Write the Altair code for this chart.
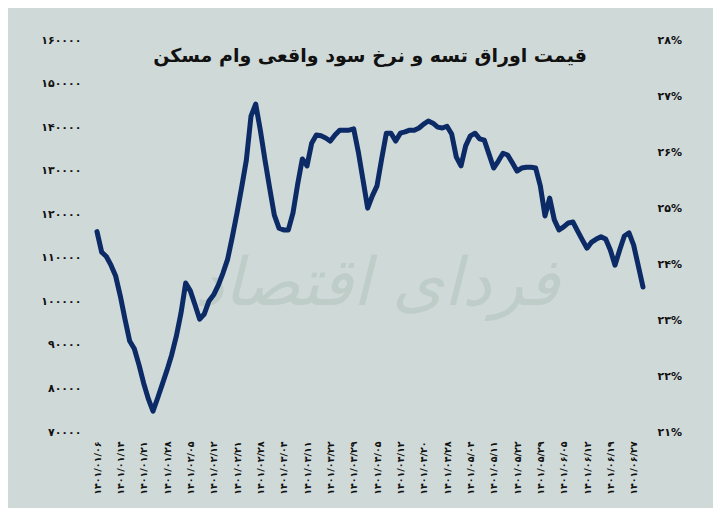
import altair as alt
import pandas as pd

title_text = "قیمت اوراق تسه و نرخ سود واقعی وام مسکن"
watermark_text = "فردای اقتصاد"

prices = [
    116000, 111300, 110300, 108300, 105800, 101200, 95900, 90900, 89100, 85400,
    81200, 77600, 74800, 77800, 81000, 84200, 87700, 92000, 97300, 104200,
    102400, 99200, 95900, 97100, 100100, 101500, 103700, 106500, 109700, 114800,
    120300, 126200, 132400, 142500, 145300, 139300, 132400, 126000, 119800, 116800,
    116400, 116400, 120300, 126900, 132700, 131100, 136300, 138200, 138000, 137500,
    136800, 138200, 139300, 139300, 139300, 139600, 134300, 127900, 121400, 124200,
    126500, 132700, 138600, 138600, 136800, 138600, 138900, 139300, 139300, 139800,
    140700, 141400, 140900, 140000, 139800, 140200, 138400, 133100, 131100, 135700,
    138000, 138600, 137300, 137000, 133800, 130600, 132200, 134000, 133600, 131800,
    129900, 130600, 130800, 130800, 130600, 126500, 119600, 123700, 118700, 116400,
    117100, 118000, 118200, 116100, 114100, 112200, 113600, 114300, 114800, 114300,
    111800, 108300, 111800, 115000, 115700, 112900, 108100, 103300,
]

date_labels = [
    "۱۴۰۱/۰۱/۰۶", "۱۴۰۱/۰۱/۱۴", "۱۴۰۱/۰۱/۲۱", "۱۴۰۱/۰۱/۲۸", "۱۴۰۱/۰۲/۰۵",
    "۱۴۰۱/۰۲/۱۲", "۱۴۰۱/۰۲/۲۱", "۱۴۰۱/۰۲/۲۸", "۱۴۰۱/۰۳/۰۴", "۱۴۰۱/۰۳/۱۱",
    "۱۴۰۱/۰۳/۲۲", "۱۴۰۱/۰۳/۲۹", "۱۴۰۱/۰۴/۰۵", "۱۴۰۱/۰۴/۱۲", "۱۴۰۱/۰۴/۲۰",
    "۱۴۰۱/۰۴/۲۸", "۱۴۰۱/۰۵/۰۴", "۱۴۰۱/۰۵/۱۱", "۱۴۰۱/۰۵/۲۲", "۱۴۰۱/۰۵/۲۹",
    "۱۴۰۱/۰۶/۰۵", "۱۴۰۱/۰۶/۱۲", "۱۴۰۱/۰۶/۱۹", "۱۴۰۱/۰۶/۲۷",
]
label_step = 5

left_ticks = [70000, 80000, 90000, 100000, 110000, 120000, 130000, 140000, 150000, 160000]
right_ticks = [21, 22, 23, 24, 25, 26, 27, 28]

df = pd.DataFrame({"i": list(range(len(prices))), "price": prices})
df_rate = pd.DataFrame({"rate": right_ticks})

FONT = "DejaVu Sans"
BG = "#cfd9d8"
LINE = "#0b2a66"

digits = "۰۱۲۳۴۵۶۷۸۹"
def fa_expr(e):
    for d in range(10):
        e = f"replace({e}, regexp('{d}','g'), '{digits[d]}')"
    return e

x_label_expr = "[" + ",".join(f"'{s}'" for s in date_labels) + f"][round(datum.value/{label_step})]"

x = alt.X(
    "i:Q",
    scale=alt.Scale(domain=[0, len(prices) - 1], nice=False, zero=False),
    axis=alt.Axis(
        values=[k * label_step for k in range(len(date_labels))],
        labelExpr=x_label_expr,
        labelAngle=270,
        labelFont=FONT,
        labelFontSize=9.5,
        labelFontWeight="bold",
        labelColor="#111111",
        labelPadding=9,
        domain=False,
        ticks=False,
        grid=False,
        title=None,
    ),
)

line = alt.Chart(df).mark_line(color=LINE, strokeWidth=5, strokeJoin="round", strokeCap="round").encode(
    x=x,
    y=alt.Y(
        "price:Q",
        scale=alt.Scale(domain=[70000, 160000], nice=False, zero=False),
        axis=alt.Axis(
            orient="left",
            values=left_ticks,
            format="d",
            labelExpr=fa_expr("datum.label"),
            labelFont=FONT,
            labelFontSize=11,
            labelFontWeight="bold",
            labelColor="#111111",
            labelPadding=16,
            domain=False,
            ticks=False,
            grid=False,
            title=None,
        ),
    ),
)

wm = alt.Chart(df.head(1)).mark_text(
    text=watermark_text,
    font=FONT,
    fontSize=66,
    fontStyle="italic",
    color="#bccbc6",
    opacity=0.85,
    align="center",
    baseline="middle",
).encode(x=alt.value(280), y=alt.value(245))

rate_axis = alt.Chart(df_rate).mark_point(opacity=0).encode(
    y=alt.Y(
        "rate:Q",
        scale=alt.Scale(domain=[21, 28], nice=False, zero=False),
        axis=alt.Axis(
            orient="right",
            values=right_ticks,
            labelExpr=fa_expr("datum.label") + " + '%'",
            labelFont=FONT,
            labelFontSize=11,
            labelFontWeight="bold",
            labelColor="#111111",
            labelPadding=14,
            domain=False,
            ticks=False,
            grid=False,
            title=None,
        ),
    ),
)

chart = (
    alt.layer(wm, line, rate_axis)
    .resolve_scale(y="independent")
    .properties(
        width=546,
        height=392,
        background=BG,
        padding={"left": 89, "top": 32, "right": 70, "bottom": 76},
        autosize=alt.AutoSizeParams(type="none"),
        title=alt.Title(
            title_text,
            font=FONT,
            fontSize=19,
            fontWeight="bold",
            color="#111111",
            anchor="middle",
            offset=-32,
        ),
    )
    .configure_view(strokeWidth=0)
)

chart.save("out.html", embed_options={"renderer": "svg", "actions": False})
